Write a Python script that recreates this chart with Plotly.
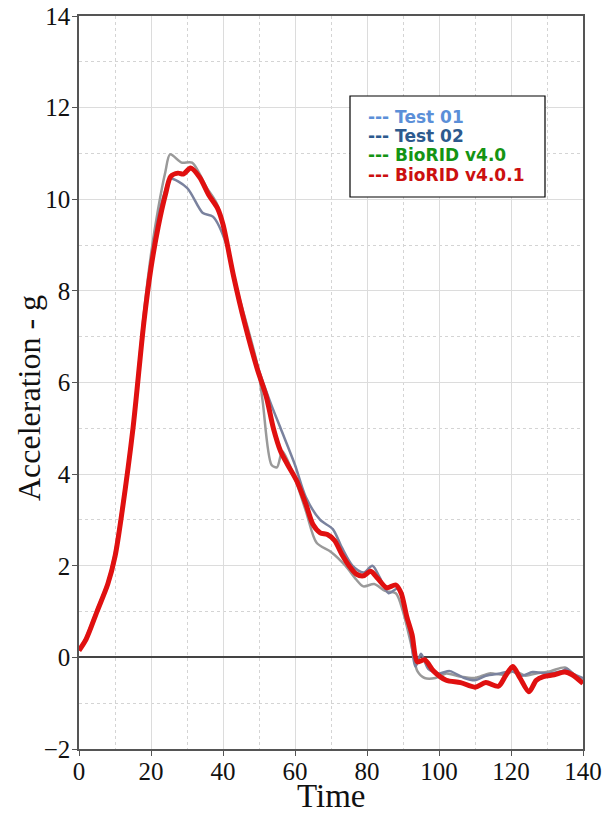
import plotly.graph_objects as go

# ---- data ----
red_x = [0, 2, 5, 8, 10, 12, 15, 18, 20, 22, 24, 25.5, 27.5, 29, 31, 33.5, 36, 38.5, 40, 43, 46, 49.5, 52, 54, 56, 58, 60.5, 63, 65, 67, 69, 71, 73, 75, 77, 79, 81, 83, 85.5, 88, 89.5, 91, 92.5, 94, 96, 98.5, 102, 106, 110, 113, 116.5, 118.5, 120.5, 122.5, 125, 127, 129, 132, 135, 137, 140]
red_y = [0.15, 0.4, 1.0, 1.6, 2.2, 3.2, 5.0, 7.3, 8.5, 9.4, 10.1, 10.5, 10.57, 10.55, 10.68, 10.48, 10.1, 9.8, 9.45, 8.3, 7.3, 6.3, 5.7, 5.0, 4.5, 4.2, 3.85, 3.35, 2.9, 2.72, 2.68, 2.55, 2.25, 2.0, 1.82, 1.78, 1.88, 1.72, 1.52, 1.58, 1.4, 0.9, 0.5, -0.1, -0.05, -0.3, -0.5, -0.55, -0.65, -0.55, -0.63, -0.4, -0.2, -0.45, -0.75, -0.5, -0.42, -0.38, -0.32, -0.38, -0.57]

t01_x = [0, 2, 5, 8, 10, 12, 15, 18, 20, 22, 24, 25.3, 28.5, 31.4, 35.5, 38.3, 43, 49.5, 51, 53.5, 55, 56.5, 60, 63, 66, 70, 74, 77, 79, 82, 85, 88, 90, 92.5, 94, 96, 99, 102, 106, 110, 114, 118, 121, 124, 127, 131, 135, 138, 140]
t01_y = [0.15, 0.45, 1.05, 1.65, 2.3, 3.3, 5.1, 7.5, 8.8, 9.8, 10.6, 10.98, 10.8, 10.8, 10.25, 9.9, 8.3, 6.4, 5.6, 4.2, 4.15, 4.5, 3.9, 3.2, 2.5, 2.3, 2.0, 1.7, 1.55, 1.6, 1.45, 1.4, 1.0, 0.2, -0.3, -0.45, -0.45, -0.35, -0.42, -0.45, -0.35, -0.38, -0.3, -0.4, -0.35, -0.3, -0.22, -0.4, -0.5]

t02_x = [0, 2, 5, 8, 10, 12, 15, 18, 20, 22, 24, 25.3, 30, 34.4, 37.2, 41, 45, 49, 53, 56, 60, 63, 67, 70.5, 73, 76, 79, 81.5, 83.5, 86, 88.5, 90, 92, 93.5, 95, 97, 100, 103, 107, 110, 113, 117, 120, 123, 126, 130, 134, 135.5, 137, 140]
t02_y = [0.15, 0.42, 1.0, 1.6, 2.25, 3.25, 5.0, 7.4, 8.6, 9.6, 10.2, 10.45, 10.25, 9.7, 9.62, 9.0, 7.6, 6.5, 5.6, 5.0, 4.2, 3.5, 3.0, 2.8, 2.4, 2.0, 1.85, 2.0, 1.75, 1.4, 1.5, 1.3, 0.5, -0.2, 0.08, -0.25, -0.35, -0.3, -0.45, -0.5, -0.4, -0.35, -0.3, -0.4, -0.32, -0.35, -0.3, -0.25, -0.35, -0.45]

legend_labels = ["--- Test 01", "--- Test 02", "--- BioRID v4.0", "--- BioRID v4.0.1"]
legend_colors = ["#5b8fd8", "#2d5a8e", "#149414", "#cc1010"]

x_title = "Time"
y_title = "Acceleration - g"
x_ticks = [0, 20, 40, 60, 80, 100, 120, 140]
y_ticks = [-2, 0, 2, 4, 6, 8, 10, 12, 14]

fig = go.Figure()
fig.add_trace(go.Scatter(x=t01_x, y=t01_y, mode="lines", name="Test 01",
                         line=dict(color="#9a9a9a", width=2.5, shape="spline", smoothing=0.8)))
fig.add_trace(go.Scatter(x=t02_x, y=t02_y, mode="lines", name="Test 02",
                         line=dict(color="#7a829e", width=2.5, shape="spline", smoothing=0.8)))
fig.add_trace(go.Scatter(x=red_x, y=red_y, mode="lines", name="BioRID v4.0.1",
                         line=dict(color="#e01010", width=5, shape="spline", smoothing=0.8)))

serif = "Liberation Serif, Times New Roman, serif"

fig.update_layout(
    width=606, height=816,
    margin=dict(l=79, r=23, t=16, b=67),
    paper_bgcolor="white", plot_bgcolor="white",
    showlegend=False,
    font=dict(family=serif, color="#111"),
    xaxis=dict(range=[0, 140], tickvals=x_ticks, ticks="outside", ticklen=5, tickcolor="#555",
               automargin=False, ticklabeloverflow="allow", ticklabelstandoff=-6,
               showline=True, linecolor="#555", linewidth=1.5, mirror=True,
               showgrid=True, gridcolor="#dcdcdc", gridwidth=1, zeroline=False,
               minor=dict(dtick=10, tick0=0, showgrid=True, gridcolor="#d4d4d4", griddash="dot"),
               tickfont=dict(family=serif, size=25, color="#111")),
    yaxis=dict(range=[-2, 14], tickvals=y_ticks, ticks="outside", ticklen=5, tickcolor="#555",
               automargin=False, ticklabeloverflow="allow", ticklabelstandoff=-3,
               showline=True, linecolor="#555", linewidth=1.5, mirror=True,
               showgrid=True, gridcolor="#dcdcdc", gridwidth=1,
               zeroline=True, zerolinecolor="#444", zerolinewidth=1.5,
               minor=dict(dtick=1, tick0=0, showgrid=True, gridcolor="#d4d4d4", griddash="dot"),
               tickfont=dict(family=serif, size=25, color="#111")),
)

# axis titles placed as annotations for exact positioning
fig.add_annotation(xref="paper", yref="paper", x=0.5, y=(749 - 796) / 733,
                   text=x_title, showarrow=False, xanchor="center", yanchor="middle",
                   font=dict(family=serif, size=33, color="#111"))
fig.add_annotation(xref="paper", yref="paper", x=(29 - 79) / 504, y=(749 - 398) / 733,
                   text=y_title, showarrow=False, xanchor="center", yanchor="middle", textangle=-90,
                   font=dict(family=serif, size=32, color="#111"))

# legend box
fig.add_shape(type="rect", xref="paper", yref="paper",
              x0=(350 - 79) / 504, x1=(545 - 79) / 504,
              y0=(749 - 197) / 733, y1=(749 - 96) / 733,
              line=dict(color="black", width=1.2), fillcolor="white", layer="above")
ys = [117, 136, 155, 175]
for lab, col, py in zip(legend_labels, legend_colors, ys):
    fig.add_annotation(xref="paper", yref="paper", x=(366 - 79) / 504, y=(749 - py) / 733,
                       text="<b>" + lab + "</b>", showarrow=False, xanchor="left", yanchor="middle",
                       font=dict(family="DejaVu Sans, Verdana, sans-serif", size=17, color=col))

# remove the browser's default 8px body margin so the 606x816 figure fills the window
fig.write_html("out.html", config={"displayModeBar": False},
               post_script="document.body.style.margin='0';")
